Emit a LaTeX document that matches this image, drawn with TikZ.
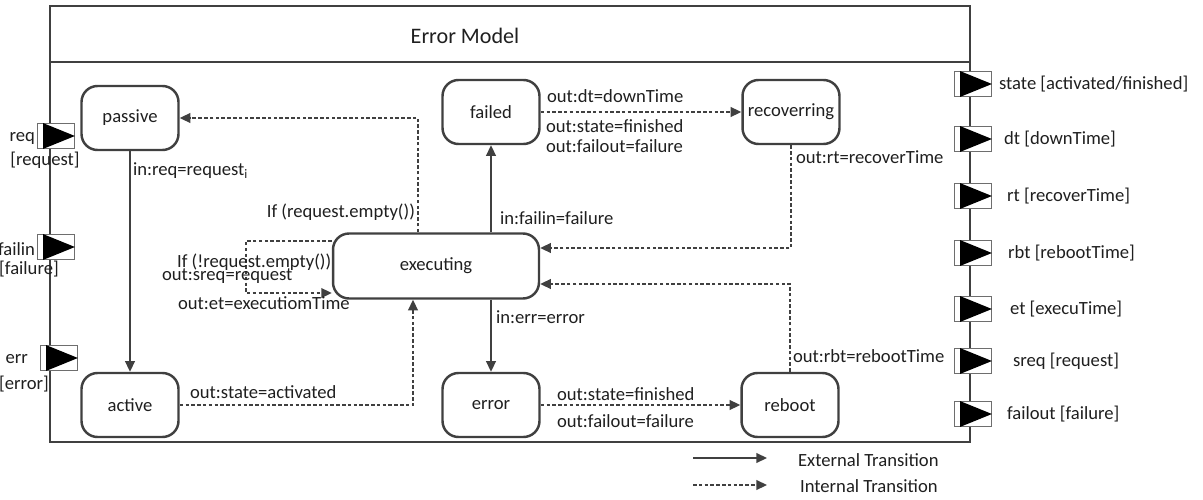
\documentclass[tikz,border=0pt]{standalone}
\usepackage{fontspec}
\setmainfont{Carlito}
\usetikzlibrary{arrows.meta,calc,positioning}
\definecolor{edgegray}{HTML}{404040}
\definecolor{portgray}{HTML}{6E6E6E}

\begin{document}
\begin{tikzpicture}
    [x=0.02cm, y=-0.02cm,
      every node/.style={font=\fontsize{10.6}{11.6}\selectfont, text=black!88},
      state/.style={draw=edgegray, line width=1.4pt, rounded corners=0.32cm, fill=white,
          inner sep=2pt, minimum width=1.94cm, minimum height=1.28cm},
      ext/.style={draw=edgegray, line width=0.9pt, -{Triangle[length=6pt,width=5.5pt]}},
      int/.style={ext, dash pattern=on 2pt off 1.3pt},
      port/.style={draw=portgray, line width=0.5pt, fill=white, inner sep=0pt,
          minimum width=0.74cm, minimum height=0.5cm},
      lab/.style={inner sep=1pt, text height=0.75em, text depth=0.15em}
    ]
    \useasboundingbox (0,0) rectangle (1203,500);

    \node [draw=edgegray, line width=1pt, minimum width=18.4cm, minimum height=8.72cm] (model) at (510,224) {};
    \draw [edgegray, line width=1pt] (model.west |- 0,62) -- (model.east |- 0,62);
    \node [font=\fontsize{12.6}{14}\selectfont] (title) at (465,36) {Error Model};

    \foreach \nm/\px/\py in {req/56/136, failin/56/247, err/59/358, state/973/84, dt/973/139,
        rt/973/196, rbt/973/253, et/973/309, sreq/973/361, failout/973/414} {
      \node [port] (p\nm) at (\px,\py) {};
      \fill ($(p\nm.north west)+(6,0)$) -- (p\nm.east) -- ($(p\nm.south west)+(6,0)$) -- cycle;
    }

    \node [lab, anchor=east] (nreq) at (37,136) {req};
    \node [lab] (treq) at (45,160) {[request]};
    \node [lab, anchor=east] (nfailin) at (37,250) {failin};
    \node [lab] (tfailin) at (29,269) {[failure]};
    \node [lab, anchor=east] (nerr) at (30,358) {err};
    \node [lab] (terr) at (24,384) {[error]};

    \foreach \nm/\tx/\txt in {state/997/{state [activated/finished]}, dt/1002/{dt [downTime]},
        rt/1005/{rt [recoverTime]}, rbt/1006/{rbt [rebootTime]}, et/1008/{et [execuTime]},
        sreq/1011/{sreq [request]}, failout/1005/{failout [failure]}} {
      \node [lab, anchor=west] (o\nm) at (\tx,0 |- p\nm) {\txt};
    }

    \node [state] (passive) at (130,118) {passive};
    \node [state] (active) at (130,405) {active};
    \node [state] (failed) at (491,112) {failed};
    \node [state] (recov) at (791,112) {recoverring};
    \node [state, minimum width=4.12cm, minimum height=1.3cm] (exec) at (436,266) {executing};
    \node [state] (error) at (491,405) {error};
    \node [state] (reboot) at (790,405) {reboot};

    \draw [ext] (passive) -- (active);
    \draw [int] ($(exec.north)+(-18,0)$) |- (passive.east);
    \draw [ext] (exec.north -| failed.south) -- (failed.south);
    \draw [int] (failed.east) -- (recov.west);
    \draw [int] (recov.south) |- ($(exec.east)+(0,-18)$);
    \draw [int] (reboot.north) |- ($(exec.east)+(0,18)$);
    \draw [ext] (exec.south -| error.north) -- (error.north);
    \draw [int] (error.east) -- (reboot.west);
    \draw [int] (active.east) -| ($(exec.south)+(-23,0)$);
    \draw [int] ($(exec.west)+(0,-25)$) -- ++(-86,0) |- ($(exec.west)+(0,27)$);

    \node [lab, anchor=west] (lreq) at (131,170) {in:req=request\textsubscript{i}};
    \node [lab, anchor=east] (lempty) at (417,212) {If (request.empty())};
    \node [lab, anchor=west] (lfailin) at (498,219) {in:failin=failure};
    \node [lab, anchor=west] (ldt) at (545,97) {out:dt=downTime};
    \node [lab, anchor=west] (lstatef) at (544,127) {out:state=finished};
    \node [lab, anchor=west] (lfailoutf) at (544,147) {out:failout=failure};
    \node [lab, anchor=west] (lrt) at (794,158) {out:rt=recoverTime};
    \node [lab, anchor=west] (lrbt) at (791,357) {out:rbt=rebootTime};
    \node [lab, anchor=west] (lerr) at (494,318) {in:err=error};
    \node [lab, anchor=west] (lstatee) at (555,395) {out:state=finished};
    \node [lab, anchor=west] (lfailoute) at (555,422) {out:failout=failure};
    \node [lab, anchor=west] (lact) at (188,393) {out:state=activated};
    \node [lab, anchor=west] (lnempty) at (175,262) {If (!request.empty())};
    \node [lab, anchor=west] (lsreq) at (160,275) {out:sreq=request};
    \node [lab, anchor=west] (let) at (176,304) {out:et=executiomTime};

    \coordinate (extA) at (693,458);
    \coordinate (extB) at (767,458);
    \coordinate (intA) at (693,485);
    \coordinate (intB) at (767,485);
    \draw [ext] (extA) -- (extB);
    \draw [int] (intA) -- (intB);
    \node [lab, anchor=west] (lext) at (796,461) {External Transition};
    \node [lab, anchor=west] (lint) at (798,487) {Internal Transition};
\end{tikzpicture}
\end{document}
